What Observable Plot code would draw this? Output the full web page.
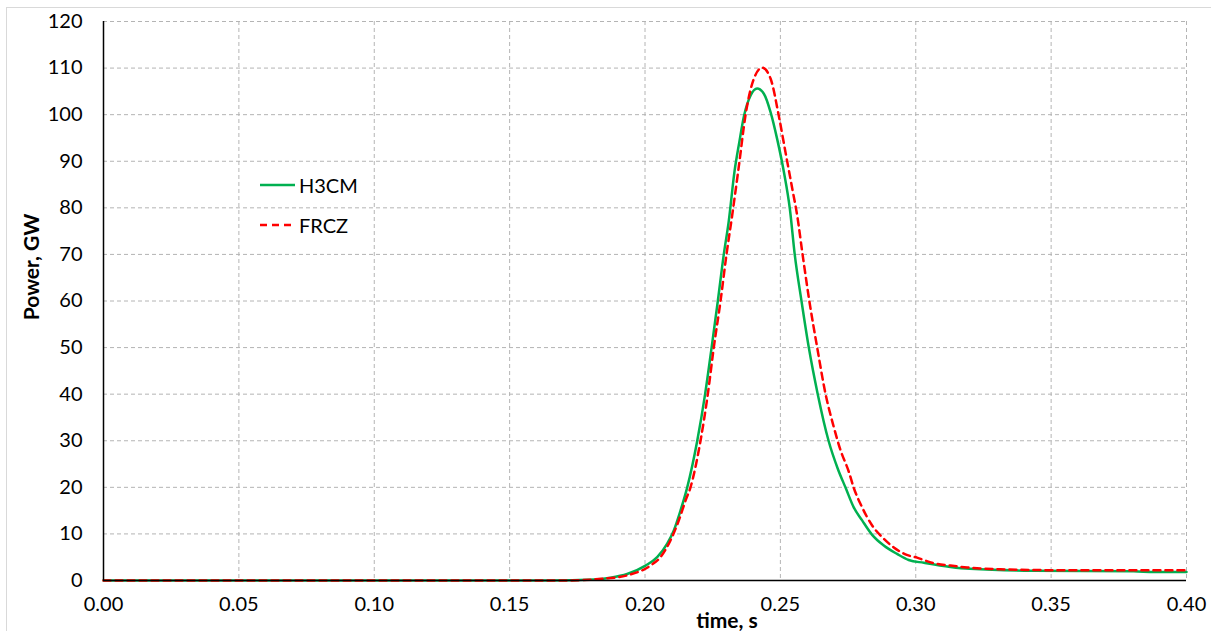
<!DOCTYPE html>
<html>
<head>
<meta charset="utf-8">
<script src="https://cdn.jsdelivr.net/npm/d3@7"></script>
<script src="https://cdn.jsdelivr.net/npm/@observablehq/plot@0.6"></script>
<style>
  html, body { margin: 0; padding: 0; background: #fff; }
  #wrap { position: relative; width: 1211px; height: 631px; overflow: hidden; font-family: Lato, "Open Sans", sans-serif; }
  #border { position: absolute; left: 6px; top: 7px; width: 1220px; height: 640px; border: 1px solid #d9d9d9; pointer-events: none; }
  .axlabel { position: absolute; font-weight: bold; font-size: 21px; color: #000; white-space: nowrap; }
  #ylab { left: 30px; top: 267px; transform: translate(-50%, -50%) rotate(-90deg); }
  #xlab { left: 727px; top: 619px; transform: translate(-50%, -50%); }
  #legend { position: absolute; left: 258px; top: 165px; font-size: 20px; color: #000; }
  .item { display: flex; align-items: center; height: 40px; }
  .item svg { margin-right: 3px; }
</style>
</head>
<body>
<div id="wrap">
  <div id="chart"></div>
  <div id="border"></div>
  <div class="axlabel" id="ylab">Power, GW</div>
  <div class="axlabel" id="xlab">time, s</div>
  <div id="legend"></div>
</div>
<script>
// ---- data ----
const xTicks = [0, 0.05, 0.10, 0.15, 0.20, 0.25, 0.30, 0.35, 0.40];
const yTicks = [0, 10, 20, 30, 40, 50, 60, 70, 80, 90, 100, 110, 120];

const timeH3CM = [0, 0.10, 0.165, 0.1811, 0.1872, 0.1934, 0.2002, 0.2045, 0.2082, 0.2106, 0.2131, 0.2156, 0.2193, 0.2222, 0.2246, 0.2269, 0.2291, 0.2309, 0.2331, 0.2348, 0.2366, 0.2390, 0.2414, 0.2439, 0.2464, 0.2488, 0.2513, 0.2535, 0.2553, 0.2578, 0.2605, 0.2638, 0.2678, 0.2712, 0.2741, 0.2771, 0.2802, 0.2839, 0.2882, 0.2931, 0.2974, 0.3030, 0.3128, 0.3200, 0.3436, 0.3805, 0.388, 0.40];
const powerH3CM = [0, 0, 0, 0.2, 0.6, 1.4, 3.2, 5.0, 7.9, 10.7, 15.0, 20, 30, 40, 50, 60, 70, 77, 88, 94, 99.8, 104.1, 105.6, 104.5, 100.5, 94.8, 87.7, 79.8, 70, 60, 50, 40, 30, 24, 19.9, 15.7, 12.9, 9.8, 7.5, 5.7, 4.4, 3.8, 2.9, 2.5, 2.1, 2.0, 1.8, 1.8];

const timeFRCZ = [0, 0.10, 0.170, 0.1848, 0.1934, 0.2020, 0.2057, 0.2094, 0.2125, 0.2150, 0.2168, 0.2205, 0.2232, 0.2254, 0.2279, 0.2301, 0.2322, 0.2347, 0.2371, 0.2402, 0.2433, 0.2464, 0.2494, 0.2519, 0.2544, 0.2562, 0.2582, 0.2607, 0.2636, 0.2667, 0.2697, 0.2722, 0.2753, 0.2771, 0.2802, 0.2839, 0.2876, 0.2919, 0.2962, 0.3005, 0.3067, 0.3128, 0.319, 0.3313, 0.356, 0.40];
const powerFRCZ = [0, 0, 0, 0.4, 1.1, 3.2, 5.0, 8.6, 12.9, 17.2, 20, 30, 40, 50, 60, 70, 78.4, 89.1, 99.8, 107.7, 110.1, 107.7, 99.8, 91.9, 84.1, 78.4, 70, 60, 50, 40, 33, 28, 23.3, 19.9, 15.7, 11.8, 9.3, 7.1, 5.6, 4.9, 3.7, 3.2, 2.8, 2.4, 2.2, 2.2];

const seriesNames = ["H3CM", "FRCZ"];
const seriesColors = ["#00b050", "#ff0000"];
const seriesDash = [null, "7,5"];

const h3cm = timeH3CM.map((t, i) => ({t, p: powerH3CM[i]}));
const frcz = timeFRCZ.map((t, i) => ({t, p: powerFRCZ[i]}));

const chart = Plot.plot({
  width: 1211,
  height: 631,
  marginLeft: 103,
  marginRight: 25,
  marginTop: 21,
  marginBottom: 51,
  style: { fontFamily: "Lato, 'Open Sans', sans-serif", fontSize: "20px", color: "#000", background: "transparent", overflow: "visible" },
  x: { domain: [0, 0.4] },
  y: { domain: [0, 120] },
  marks: [
    Plot.gridX(xTicks, { stroke: "#b4b4b4", strokeOpacity: 1, strokeWidth: 1, strokeDasharray: "4,3" }),
    Plot.gridY(yTicks, { stroke: "#b4b4b4", strokeOpacity: 1, strokeWidth: 1, strokeDasharray: "4,3" }),
    Plot.axisX({ ticks: xTicks, tickSize: 0, tickPadding: 16, tickFormat: d => d.toFixed(2), label: null }),
    Plot.axisY({ ticks: yTicks, tickSize: 0, tickPadding: 21, label: null }),
    Plot.line(h3cm, { x: "t", y: "p", stroke: seriesColors[0], strokeWidth: 2.5, curve: "monotone-x" }),
    Plot.line(frcz, { x: "t", y: "p", stroke: seriesColors[1], strokeWidth: 2.5, strokeDasharray: seriesDash[1], curve: "monotone-x" }),
    Plot.ruleX([0], { stroke: "#000", strokeWidth: 1.5 }),
    Plot.ruleY([0], { stroke: "#000", strokeWidth: 1.5 })
  ]
});
document.getElementById("chart").appendChild(chart);

// legend
const legend = document.getElementById("legend");
seriesNames.forEach((name, i) => {
  const item = document.createElement("div");
  item.className = "item";
  const dash = seriesDash[i] ? ` stroke-dasharray="${seriesDash[i]}"` : "";
  item.innerHTML = `<svg width="38" height="10"><line x1="2" y1="5" x2="37" y2="5" stroke="${seriesColors[i]}" stroke-width="2.5"${dash}/></svg><span>${name}</span>`;
  legend.appendChild(item);
});
</script>
</body>
</html>
